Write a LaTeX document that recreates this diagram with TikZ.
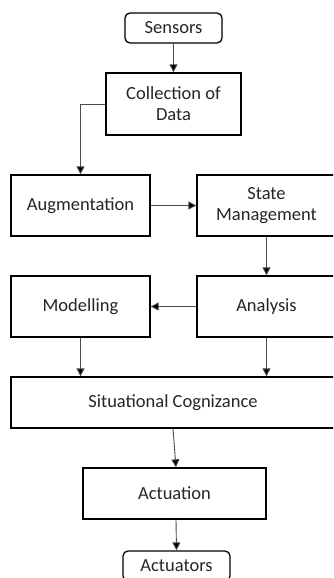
\documentclass[tikz,border=0pt]{standalone}
\usepackage{fontspec}
\setmainfont{Carlito}
\usetikzlibrary{arrows.meta}
\begin{document}
\begin{tikzpicture}[x=1pt,y=-1pt,
  box/.style={draw=black, line width=1.3pt, fill=white, inner sep=0pt,
    align=center, text=black!85, font=\fontsize{18.5}{21}\selectfont},
  endpoint/.style={box, rounded corners=5pt},
  flow/.style={draw=black!70, line width=0.9pt,
    -{Triangle[width=8pt,length=8pt,fill=black]}}]
\useasboundingbox (0,0) rectangle (333,578);
\clip (0,0) rectangle (333,578);

% processing stages
\node[endpoint, minimum width=97pt, minimum height=30pt] (sens) at (173.5,28) {Sensors};
\node[box, minimum width=135pt, minimum height=62pt] (coll) at (173.5,104) {Collection of\\Data};
\node[box, minimum width=139pt, minimum height=61pt] (aug) at (80.5,205.5) {Augmentation};
\node[box, minimum width=139pt, minimum height=61pt] (state) at (266.5,205.5) {State\\Management};
\node[box, minimum width=139pt, minimum height=61pt] (model) at (80.5,306.5) {Modelling};
\node[box, minimum width=139pt, minimum height=61pt] (anal) at (266.5,306.5) {Analysis};
\node[box, minimum width=330pt, minimum height=51pt] (sit) at (176,402.5) {};
\node[font=\fontsize{18.5}{21}\selectfont, text=black!85] (sitlabel) at (173,402.5) {Situational Cognizance};
\node[box, minimum width=183pt, minimum height=51pt] (act) at (174.5,493.5) {Actuation};
\node[endpoint, minimum width=107pt, minimum height=30pt] (actr) at (176.5,566) {Actuators};

% connectors
\draw[flow] (sens) -- (coll);
\draw[flow] (coll.west) -| (aug.north);
\draw[flow] (aug) -- (state);
\draw[flow] (state) -- (anal);
\draw[flow] (anal) -- (model);
\draw[flow] (model.south) -- (model.south |- sit.north);
\draw[flow] (anal.south) -- (anal.south |- sit.north);
\draw[flow] (sit.south -| sitlabel) -- ([xshift=1.5pt]act.north);
\draw[flow] ([xshift=1.5pt]act.south) -- (actr.north);
\end{tikzpicture}
\end{document}
